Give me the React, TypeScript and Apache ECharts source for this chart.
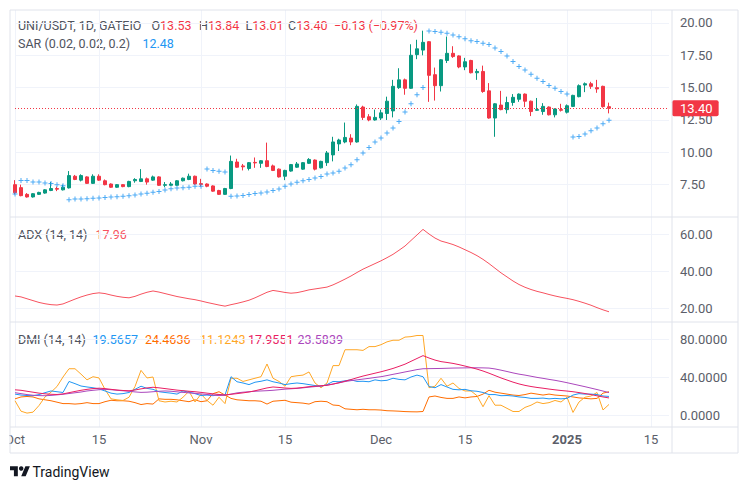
import React, { useEffect, useRef } from 'react';
import * as echarts from 'echarts';

// ---------- categories ----------
const START = Date.UTC(2024, 9, 1);
const dates: string[] = [];
for (let i = 0; i < 110; i++) dates.push(new Date(START + i * 86400000).toISOString().slice(0, 10));

// ---------- price (UNI/USDT 1D) ----------
const opens = [7.5,7.27,6.75,6.55,6.75,6.85,7.05,7.2,7.1,7.25, 8.15,7.85,8.1,7.6,8.15,7.8,7.55,7.3,7.5,7.35, 7.8,7.75,7.95,7.85,8.1,7.45,7.45,7.45,7.8,7.9, 8.15,7.58,7.55,7.4,7.05,6.75,7.2,9.25,8.95,8.75, 9.22,9.15,9.35,8.95,8.7,8.15,8.55,8.85,8.7,9.15, 9.4,8.8,9.2,9.8,10.65,10.8,11.1,10.8,13.5,12.75, 12.5,12.65,13.0,13.2,15.0,15.6,14.95,17.55,17.9,18.55, 16.0,15.15,17.1,17.65,17.45,16.6,17.1,16.15,16.25,14.75, 12.65,13.65,13.3,13.85,14.1,14.5,13.95,13.25,13.15,13.5, 12.9,13.3,13.1,13.55,14.3,15.2,15.3,15.0,15.1,13.53];
const closes = [6.88,6.65,6.55,6.8,6.9,7.1,7.2,7.15,7.3,8.2, 7.9,8.2,7.6,8.15,7.85,7.5,7.3,7.5,7.35,7.75, 7.9,7.95,7.7,8.1,7.45,7.5,7.55,7.8,8.0,8.15, 7.55,7.52,7.38,7.0,6.75,7.2,9.3,8.85,8.88,9.2, 9.18,9.35,8.9,8.6,8.1,8.6,9.05,9.1,9.2,9.45, 8.7,9.3,9.95,10.8,10.95,11.15,10.8,13.55,12.7,12.5, 12.7,13.05,13.95,15.1,15.6,14.95,17.5,18.0,18.5,15.95, 15.15,17.15,17.65,17.4,16.6,17.0,16.15,16.25,14.7,12.65, 13.75,13.3,13.85,14.25,14.5,13.95,13.15,13.3,13.55,12.9, 13.35,13.25,13.6,14.4,15.15,15.3,15.1,14.9,13.53,13.40];
const highs = [7.85,7.5,6.85,6.85,6.95,7.15,7.7,7.35,7.5,8.55, 8.25,8.3,8.15,8.3,8.3,7.9,7.6,7.55,7.55,7.8, 8.0,8.7,8.05,8.2,8.15,7.7,7.7,7.85,8.05,8.35, 8.2,7.95,7.6,7.45,7.1,7.25,9.75,9.5,9.1,9.25, 9.6,9.4,10.75,9.05,8.75,8.65,9.1,9.25,9.25,9.55, 9.45,9.35,10.1,11.2,11.05,12.3,11.4,13.7,13.6,12.95, 13.3,13.3,14.3,15.6,16.5,15.7,18.35,18.7,19.4,18.6, 16.55,17.2,18.95,18.2,17.5,17.3,17.15,16.45,16.7,15.35, 13.8,14.75,14.3,14.5,14.55,14.55,14.0,14.2,13.8,13.55, 13.4,13.75,13.7,14.45,15.25,15.4,15.45,15.6,15.15,13.84];
const lows = [6.75,6.6,6.5,6.5,6.7,6.8,7.0,7.0,7.05,7.2, 7.85,7.75,7.55,7.55,7.8,7.45,7.25,7.25,7.3,7.3, 7.65,7.7,7.5,7.8,7.4,7.3,7.4,7.4,7.75,7.85, 7.5,7.35,7.3,6.95,6.7,6.7,7.15,8.8,8.6,8.6, 8.8,8.8,8.85,8.55,8.05,7.85,8.5,8.8,8.65,9.1, 8.6,8.75,8.95,9.3,10.1,10.7,10.55,10.75,12.5,12.4, 12.45,12.5,12.5,12.7,14.9,14.45,14.9,17.2,17.5,13.9, 14.0,14.7,16.9,17.3,16.5,16.35,16.1,15.6,14.6,12.6, 11.2,13.25,13.0,13.6,13.9,13.5,12.8,13.2,12.9,12.85, 12.7,13.15,13.0,13.5,14.25,14.65,14.9,14.6,13.45,13.01];

// ---------- Parabolic SAR ----------
const sar = [6.78,7.83,7.83,7.71,7.71,7.63,7.58,7.50,7.42,6.34, 6.40,6.40,6.42,6.44,6.47,6.50,6.54,6.57,6.61,6.65, 6.71,6.77,6.84,6.91,6.98,7.08,7.19,7.25,7.27,7.29, 7.37,7.38,8.71,8.60,8.53,8.48,6.60,6.63,6.67,6.73, 6.81,6.86,6.94,7.04,7.17,7.37,7.55,7.68,7.81,7.89, 8.02,8.14,8.33,8.40,8.53,8.79,9.04,9.43,9.95,10.38, 10.79,11.10,11.49,11.88,12.38,13.11,13.75,14.44,15.01,19.38, 19.33,19.28,19.21,19.07,18.94,18.77,18.63,18.56,18.43,18.34, 18.07,17.79,17.45,17.01,16.63,16.37,16.04,15.73,15.47,15.16, 14.96,14.70,14.50,11.18,11.23,11.41,11.67,11.88,12.21,12.48];

// ---------- ADX ----------
const adx = [26.5,26,25,24,23,22.3,21.8,21.6,22.2,23.5, 24.8,26,27,27.8,28.2,27.8,27,26.3,25.8,25.5, 26.3,27.5,28.5,29.2,28.6,27.8,27,26.2,25.6,25, 24.5,23.8,23,22.3,21.6,21,21.8,22.5,23.3,24.2, 25.5,27,28.5,29.5,29,28.4,28,28.3,29,29.8, 30.3,30.8,31.3,32.5,34,35.6,37.3,39.2,41,42.5, 44,45.5,47.2,49,51.2,53.5,56.5,59.5,62.5,60, 57.8,56.2,55.3,54.3,53,51.5,50,48.3,46.3,44, 41.5,39,36.8,34.6,32.7,31.2,30,29,28.2,27.3, 26.5,25.8,25.2,24.5,23.6,22.6,21.5,20.2,19,17.96];

// ---------- DMI ----------
const plusDI = [22,21,20.5,20.3,21.5,23.5,25.3,24.5,23.7,35.3, 33,30.5,29.5,28.7,27.5,25.3,23,22,22.5,23.7, 27,30.3,28,27,24.5,23.7,23,22,25.3,24, 22.5,20.5,21,20.3,21.5,21,40.3,35,33.7,32, 34.5,35.5,37,35,33.7,32,33,33.7,33,32, 31,30.3,32,35.3,35,36,37,35.3,35.5,35, 37,36,36.5,38.7,37.5,37,40,42,40.3,30, 28.7,32,29.5,27,26.5,27,25.5,25,23.7,21.5, 21.5,20.3,20.5,20,19,18.5,17.5,17.5,17.8,17, 17.5,17,17.5,21,22.5,22,22,21.5,20,19.5657];
const minusDI = [17,19,19.5,19,17,16,15,13.5,12,12, 11.5,12,13,12,12,14,15.5,15,15,14.5, 13,11,12,11.5,17,16.5,16.5,16,15,14, 16,14,15,22.5,24.5,21,17.5,16,15.5,15, 15,14.5,11.5,14.5,15,15.5,13.5,13,12.5,11.5, 14,14.5,14,10.5,10,6.5,6,5.5,6,5.5, 5.5,5.2,4.5,4.3,4,3.6,3.4,3.3,3.7,19, 20,18.5,17.5,17.5,19,18,19,19.5,22,26, 24,23,22,21,20.5,21.5,23,22,21,22, 21,20.5,20,19,18,17.5,17,17.5,23,24.4636];
const dx = [15,4,2,3,10,19,24,30,40,48.7, 48.7,43,37,40.3,39,27,17,16,15.3,18.7, 30,47,39,40,15,13.7,14.5,13.7,18.7,25, 13.7,22,15.3,10.3,18.7,12,38.7,38.7,35.3,37, 38.7,40.3,53.7,38.7,35.3,30.3,40.3,41.3,42,45.3, 33.7,28.7,33.7,52,52,68.7,68.7,68.7,68,72, 72,74,77,78.7,78.7,82,82.5,83.7,83.7,28.7, 30.3,38.7,30.3,33.7,28,25.3,25.3,20.3,8.7,20.3, 10.3,10.3,7,3.7,3.7,8,10.3,13.7,12,13, 15.3,13.7,18.7,2.7,13.7,18.7,20,23.7,5.3,11.1243];
const adxr = [23.5,22.5,21.5,20.8,20.4,20.3,20.6,21.2,21.8,22.6, 23.4,24.2,25.3,26,26.6,27,26.6,26,25.5,25, 24.3,23.8,24,24.5,25,25.3,25,24.4,23.8,23.3, 22.8,22.2,21.6,21,20.4,21,22,23.3,24,24.5, 25,25.3,25.6,26,26.6,27.2,27.6,28,28.6,29.3, 29.9,30.5,31.4,32.6,33.8,35.2,36.2,37,37.8,38.6, 39.5,40.3,41.5,42.8,44,45.3,46.5,47.8,48.7,48.8, 48.9,49,49.2,49.4,49.5,49.6,49.7,49.7,49.6,49.4, 48.5,47.2,45.8,44.3,43,42,40.8,39.6,38.6,37.5, 36.5,35.3,34,32.6,31.2,29.8,28.3,26.8,25.2,23.58];

// ---------- axis ticks ----------
const priceTicks = [7.5, 10, 12.5, 15, 17.5, 20];
const adxTicks = [20, 40, 60];
const dmiTicks = [0, 40, 80];
const monthNames = ['Jan','Feb','Mar','Apr','May','Jun','Jul','Aug','Sep','Oct','Nov','Dec'];

const UP = '#089981', DOWN = '#f23645';
const GRID = '#f0f3fa', BORDER = '#e0e3eb', TXT = '#50535e', AX = '#5b5e69';
const FONT = 'Roboto, sans-serif';
const LFS = 12.5;

const isLabelDay = (_i: number, v: string) => { const d = +v.slice(8, 10); return d === 1 || d === 15; };
const fmtDate = (v: string) => {
  const d = +v.slice(8, 10), m = +v.slice(5, 7);
  if (d === 15) return '15';
  if (m === 1) return '{b|' + v.slice(0, 4) + '}';
  return monthNames[m - 1];
};

const LOGO = 'M14 22H7V11H0V4h14v18zM28 22h-8l7.5-18h8L28 22z';
let registered = false;

export default function App() {
  const ref = useRef<HTMLDivElement>(null);
  useEffect(() => {
    if (!ref.current) return;
    if (!registered) {
      echarts.graphic.registerShape('tvlogo', echarts.graphic.extendPath(LOGO, {}) as any);
      registered = true;
    }
    const chart = echarts.init(ref.current, undefined, { renderer: 'svg' });
    const catAxis = (gridIndex: number, extra: any = {}) => ({
      type: 'category', gridIndex, data: dates, boundaryGap: false,
      axisLine: { show: false }, axisTick: { show: false }, axisLabel: { show: false },
      splitLine: { show: false }, ...extra,
    });
    const valAxis = (gridIndex: number, min: number, max: number, interval: number, ticks: number[], dec: number) => ({
      type: 'value', gridIndex, position: 'right', min, max, interval, scale: false,
      axisLine: { show: false }, axisTick: { show: false },
      axisLabel: {
        margin: 11, color: AX, fontSize: 13, fontFamily: FONT,
        formatter: (v: number) => (ticks.some(t => Math.abs(t - v) < 1e-6) ? v.toFixed(dec) : ''),
      },
      splitLine: { show: true, showMinLine: false, showMaxLine: false, lineStyle: { color: GRID, width: 1 } },
    });
    const candles = opens.map((o, i) => [o, closes[i], lows[i], highs[i]]);
    const line = (name: string, data: number[], color: string, x: number) => ({
      name, type: 'line', xAxisIndex: x, yAxisIndex: x, data, symbol: 'none', silent: true,
      lineStyle: { color, width: 1 }, itemStyle: { color },
    });
    const txt = (x: number, y: number, text: string, fill: string, extra: any = {}) => ({
      type: 'text', x, y, silent: true,
      style: { text, fill, fontSize: LFS, fontFamily: FONT, verticalAlign: 'middle', ...extra },
    });
    const rich = (x: number, y: number, a: string, b: string, col: string) => ({
      type: 'text', x, y, silent: true,
      style: {
        text: `{g|${a}}{v|${b}}`, verticalAlign: 'middle', fontSize: LFS, fontFamily: FONT,
        rich: { g: { fill: TXT, fontSize: LFS, fontFamily: FONT }, v: { fill: col, fontSize: LFS, fontFamily: FONT } },
      },
    });
    const hl = (y: number) => ({ type: 'line', z: 50, silent: true, shape: { x1: 10, y1: y, x2: 738, y2: y }, style: { stroke: BORDER, lineWidth: 1 } });

    chart.setOption({
      animation: false,
      backgroundColor: '#ffffff',
      textStyle: { fontFamily: FONT },
      grid: [
        { left: 15, right: 79, top: 10, height: 207 },
        { left: 15, right: 79, top: 197, height: 148 },
        { left: 15, right: 79, top: 301, height: 152 },
        { left: 15, right: 79, top: 427, height: 1 },
        { left: 15, right: 79, top: 10, height: 417 },
      ],
      xAxis: [
        catAxis(0), catAxis(1), catAxis(2),
        catAxis(3, {
          axisLabel: {
            show: true, interval: isLabelDay, formatter: fmtDate, margin: 5,
            color: AX, fontSize: 13, fontFamily: FONT,
            rich: { b: { fontWeight: 'bold', color: AX, fontSize: 13, fontFamily: FONT } },
          },
        }),
        catAxis(4, { splitLine: { show: true, interval: isLabelDay, lineStyle: { color: GRID, width: 1 } } }),
      ],
      yAxis: [
        valAxis(0, 5, 21, 2.5, priceTicks, 2),
        valAxis(1, 0, 80, 20, adxTicks, 2),
        valAxis(2, -40, 120, 40, dmiTicks, 4),
        { type: 'value', gridIndex: 3, show: false },
        { type: 'value', gridIndex: 4, show: false },
      ],
      series: [
        {
          name: 'UNI/USDT', type: 'candlestick', xAxisIndex: 0, yAxisIndex: 0, data: candles,
          barWidth: 4, clip: false, silent: true,
          itemStyle: { color: UP, color0: DOWN, borderColor: UP, borderColor0: DOWN, borderWidth: 1 },
          markLine: {
            silent: true, symbol: ['none', 'none'], animation: false,
            data: [{ yAxis: closes[closes.length - 1] }],
            lineStyle: { type: [1, 2], color: DOWN, width: 1 },
            label: {
              show: true, position: 'end', distance: 3, formatter: closes[closes.length - 1].toFixed(2),
              backgroundColor: DOWN, color: '#ffffff', fontSize: 13, fontFamily: FONT,
              padding: [1, 6, 1, 8], lineHeight: 14, borderRadius: 2,
            },
          },
        },
        {
          name: 'SAR', type: 'scatter', xAxisIndex: 0, yAxisIndex: 0, data: sar, silent: true,
          symbol: 'path://M2,0H3V2H5V3H3V5H2V3H0V2H2Z', symbolSize: 5,
          itemStyle: { color: '#2196f3' },
        },
        line('ADX', adx, '#f7525f', 1),
        line('-DI', minusDI, '#ff6d00', 2),
        line('DX', dx, '#ffa726', 2),
        line('+DI', plusDI, '#2196f3', 2),
        line('ADXR', adxr, '#ab47bc', 2),
        line('ADX DMI', adx, '#e91e63', 2),
      ],
      graphic: [
        { type: 'rect', z: 40, silent: true, shape: { x: 0, y: 428, width: 9.5, height: 24 }, style: { fill: '#ffffff' } },
        { type: 'rect', z: 50, silent: true, shape: { x: 10, y: 10, width: 728, height: 443 }, style: { fill: 'none', stroke: BORDER, lineWidth: 1 } },
        { type: 'line', z: 50, silent: true, shape: { x1: 672, y1: 10, x2: 672, y2: 453 }, style: { stroke: BORDER, lineWidth: 1 } },
        hl(217), hl(322), hl(427),
        // legends
        txt(18, 25, 'UNI/USDT, 1D, GATEIO', TXT),
        rich(151.5, 25, 'O', '13.53', DOWN),
        rich(199, 25, 'H', '13.84', DOWN),
        rich(245.5, 25, 'L', '13.01', DOWN),
        rich(288, 25, 'C', '13.40', DOWN),
        txt(334, 25, '\u22120.13 (\u22120.97%)', DOWN),
        txt(18, 43.5, 'SAR (0.02, 0.02, 0.2)', TXT),
        txt(142.5, 43.5, '12.48', '#2196f3'),
        txt(18, 234, 'ADX (14, 14)', TXT),
        txt(95.5, 234, '17.96', '#f7525f'),
        txt(18, 339, 'DMI (14, 14)', TXT),
        txt(92.5, 339, '19.5657', '#2196f3'),
        txt(145, 339, '24.4636', '#ff6d00'),
        txt(200, 339, '11.1243', '#ffa726'),
        txt(248, 339, '17.9551', '#e91e63'),
        txt(297.5, 339, '23.5839', '#ab47bc'),
        // footer
        { type: 'tvlogo', x: 10, y: 464, scaleX: 0.56, scaleY: 0.56, silent: true, style: { fill: '#131722' } },
        { type: 'circle', silent: true, shape: { cx: 10 + 20 * 0.56, cy: 464 + 8 * 0.56, r: 4 * 0.56 }, style: { fill: '#131722' } },
        txt(32.5, 471.5, 'TradingView', '#131722', { fontSize: 14 }),
      ],
    });
    return () => chart.dispose();
  }, []);
  return <div ref={ref} style={{ position: 'fixed', left: 0, top: 0, width: 748, height: 489, background: '#fff' }} />;
}
